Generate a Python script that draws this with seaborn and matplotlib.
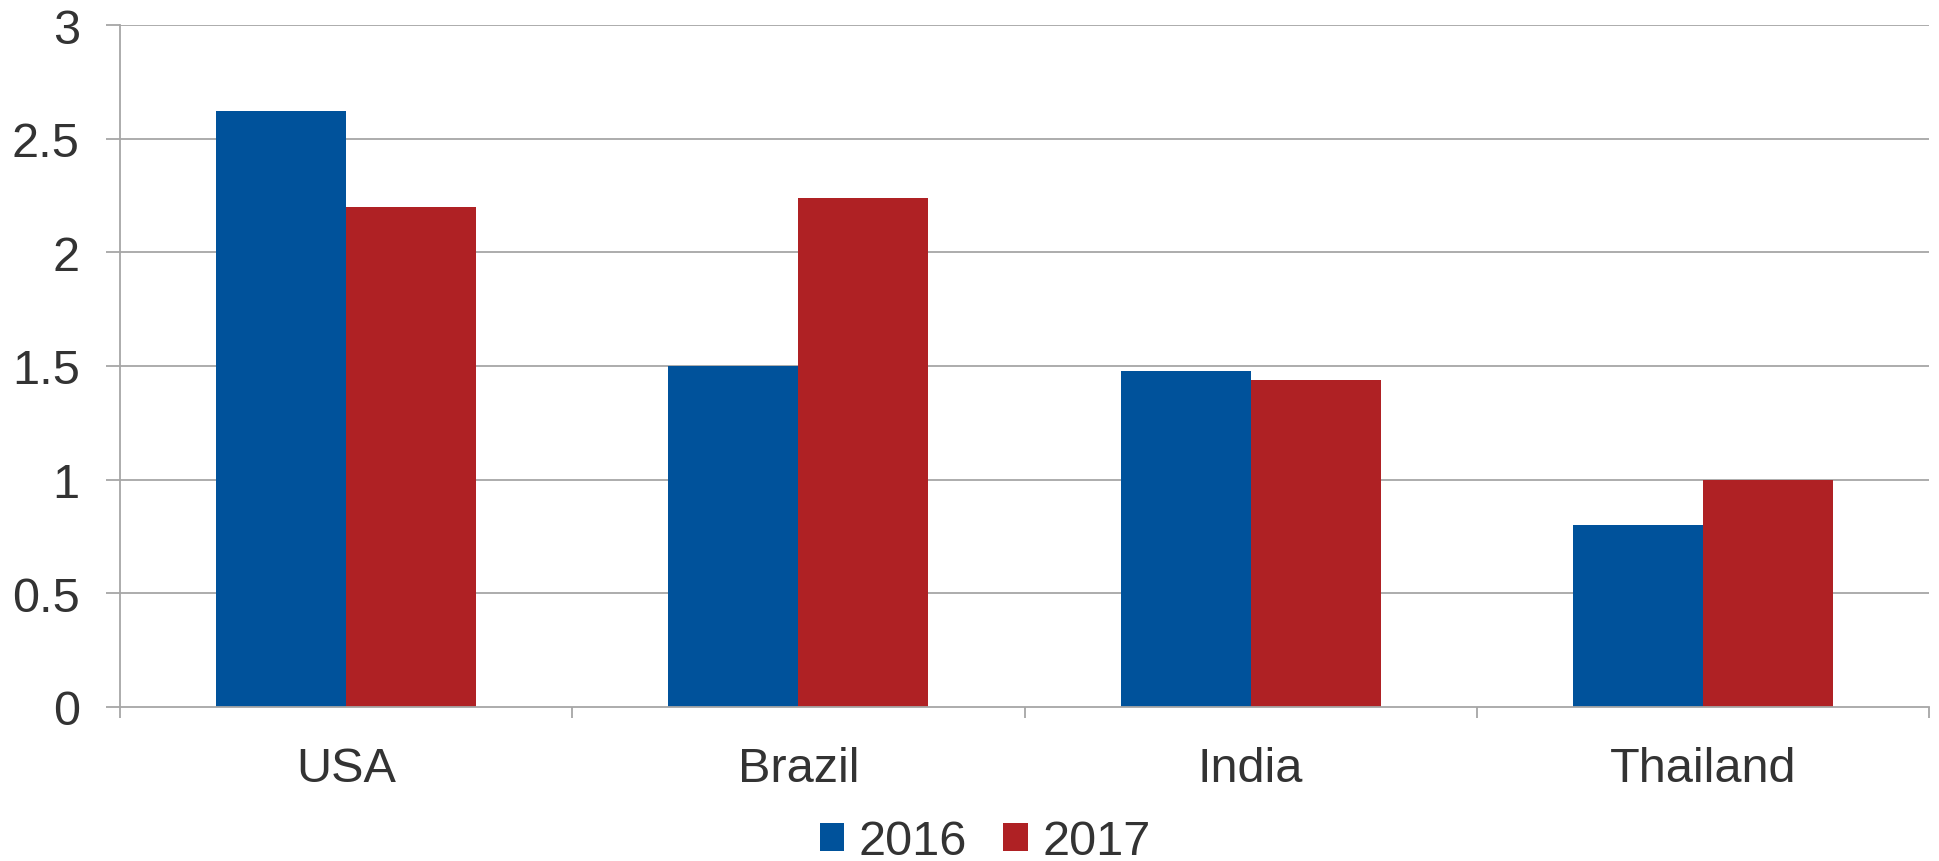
import matplotlib
matplotlib.use('Agg')

import pandas as pd
import matplotlib.pyplot as plt
import seaborn as sns

# data
countries = ['USA', 'Brazil', 'India', 'Thailand']
years = ['2016', '2017']
values_2016 = [2.62, 1.50, 1.48, 0.80]
values_2017 = [2.20, 2.24, 1.44, 1.00]
yticks = [0, 0.5, 1, 1.5, 2, 2.5, 3]
ytick_labels = ['0', '0.5', '1', '1.5', '2', '2.5', '3']

colors = {'2016': '#00529B', '2017': '#AF2124'}
grey = '#A6A6A6'
text_col = '#333333'

df = pd.DataFrame({
    'country': countries * 2,
    'year': ['2016'] * 4 + ['2017'] * 4,
    'value': values_2016 + values_2017,
})

sns.set_style('white')
plt.rcParams['font.family'] = ['Liberation Sans', 'DejaVu Sans']

fig = plt.figure(figsize=(19.39, 8.62), dpi=100)
ax = fig.add_axes([120 / 1939, 1 - 708 / 862, (1929 - 120) / 1939, (708 - 26) / 862])

sns.barplot(data=df, x='country', y='value', hue='year', order=countries,
            hue_order=years, palette=colors, width=0.575, saturation=1,
            linewidth=0, ax=ax)

ax.set_xlim(-0.5, 3.5)
ax.set_ylim(0, 3)
ax.set_xlabel('')
ax.set_ylabel('')

# horizontal gridlines
ax.set_yticks(yticks)
ax.set_yticklabels(ytick_labels)
for y in yticks[1:]:
    ax.axhline(y, color=grey, lw=1.3, zorder=0)
ax.set_axisbelow(True)

ax.tick_params(axis='y', length=10, width=1.3, color=grey, pad=19,
               labelsize=35, labelcolor=text_col, left=True)
ax.tick_params(axis='x', which='major', length=0, pad=28,
               labelsize=35, labelcolor=text_col)
# category boundary ticks
ax.set_xticks([-0.5, 0.5, 1.5, 2.5, 3.5], minor=True)
ax.tick_params(axis='x', which='minor', length=8, width=1.3, color=grey,
               bottom=True)

for s in ['top', 'right']:
    ax.spines[s].set_visible(False)
for s in ['left', 'bottom']:
    ax.spines[s].set_color(grey)
    ax.spines[s].set_linewidth(1.3)

handles, labels = ax.get_legend_handles_labels()
ax.legend(handles, labels, loc='center', bbox_to_anchor=(985 / 1939, 1 - 843 / 862),
          bbox_transform=fig.transFigure, ncol=2, frameon=False, fontsize=35,
          handlelength=0.5, handleheight=0.5, handletextpad=0.3,
          columnspacing=0.75, labelcolor=text_col, borderpad=0.1)

fig.savefig('out.png', dpi=100)
